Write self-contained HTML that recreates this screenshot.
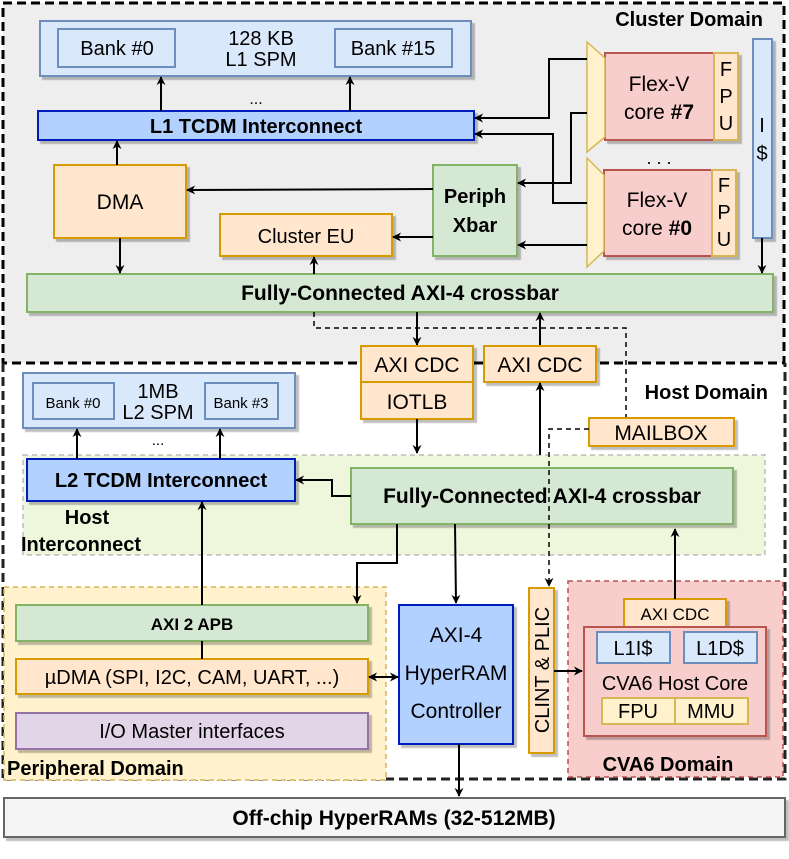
<!DOCTYPE html>
<html><head><meta charset="utf-8"><style>
html,body{margin:0;padding:0;background:#fff}
svg{display:block}
text{font-family:"Liberation Sans",sans-serif;fill:#000}
.b{font-weight:bold}
</style></head><body>
<svg width="789" height="859" viewBox="0 0 789 859" xmlns="http://www.w3.org/2000/svg">
<defs>
<filter id="sh" x="-5%" y="-5%" width="115%" height="130%"><feDropShadow dx="3" dy="3" stdDeviation="0.6" flood-color="#000" flood-opacity="0.25"/></filter>
<marker id="a" viewBox="0 0 10 10" refX="9" refY="5" markerWidth="9" markerHeight="9" orient="auto-start-reverse" markerUnits="userSpaceOnUse"><path d="M0,0 L10,5 L0,10 L3,5 z" fill="#000"/></marker>
</defs>
<rect x="3" y="3" width="781" height="360" fill="#eeeeee" stroke="#000" stroke-width="3" stroke-dasharray="9,5"/>
<path d="M3,363 V779 H785 V363" fill="none" stroke="#222" stroke-width="3" stroke-dasharray="9,5"/>
<text x="763" y="26" class="b" font-size="20" text-anchor="end">Cluster Domain</text>
<text x="768" y="399" class="b" font-size="20" text-anchor="end">Host Domain</text>

<g filter="url(#sh)">
<rect x="40" y="21" width="431" height="55" fill="#dae8fc" stroke="#6c8ebf" stroke-width="2"/>
<rect x="58" y="29" width="117" height="38" fill="#dae8fc" stroke="#6c8ebf" stroke-width="2"/>
<rect x="335" y="29" width="117" height="38" fill="#dae8fc" stroke="#6c8ebf" stroke-width="2"/>
<rect x="38" y="111" width="436" height="29" fill="#b3d1ff" stroke="#001dbc" stroke-width="2"/>
<rect x="54" y="165" width="132" height="73" fill="#ffe6cc" stroke="#d79b00" stroke-width="2"/>
<rect x="220" y="214" width="172" height="42" fill="#ffe6cc" stroke="#d79b00" stroke-width="2"/>
<rect x="433" y="165" width="84" height="91" fill="#d5e8d4" stroke="#82b366" stroke-width="2"/>
<rect x="605" y="53" width="109" height="87" fill="#f8cecc" stroke="#b85450" stroke-width="2"/>
<rect x="714" y="53" width="24" height="87" fill="#ffe6cc" stroke="#d6b656" stroke-width="2"/>
<rect x="604" y="170" width="108" height="86" fill="#f8cecc" stroke="#b85450" stroke-width="2"/>
<rect x="712" y="170" width="24" height="86" fill="#ffe6cc" stroke="#d6b656" stroke-width="2"/>
<rect x="753" y="39" width="19" height="199" fill="#dae8fc" stroke="#6c8ebf" stroke-width="2"/>
<rect x="27" y="274" width="746" height="38" fill="#d5e8d4" stroke="#82b366" stroke-width="2"/>
</g>
<path d="M587,42 L605,58 L605,137 L587,152 Z" fill="#fff2cc" stroke="#d6b656" stroke-width="1.5"/>
<path d="M587,158 L604,175 L604,251 L587,267 Z" fill="#fff2cc" stroke="#d6b656" stroke-width="1.5"/>

<text x="117" y="55" font-size="20" text-anchor="middle">Bank #0</text>
<text x="393" y="55" font-size="20" text-anchor="middle">Bank #15</text>
<text x="261" y="45" font-size="20" text-anchor="middle">128 KB</text>
<text x="261" y="66" font-size="20" text-anchor="middle">L1 SPM</text>
<text x="256" y="104" font-size="16" text-anchor="middle">...</text>
<text x="256" y="133" class="b" font-size="20" text-anchor="middle" fill="#222">L1 TCDM Interconnect</text>
<text x="120" y="209" font-size="21" text-anchor="middle">DMA</text>
<text x="306" y="243" font-size="20" text-anchor="middle">Cluster EU</text>
<text x="475" y="203" class="b" font-size="20" text-anchor="middle">Periph</text>
<text x="475" y="232" class="b" font-size="20" text-anchor="middle">Xbar</text>
<text x="659" y="91" font-size="21" text-anchor="middle">Flex-V</text>
<text x="659" y="119" font-size="21" text-anchor="middle">core <tspan class="b">#7</tspan></text>
<text x="726" y="76" font-size="20" text-anchor="middle">F</text>
<text x="726" y="103" font-size="20" text-anchor="middle">P</text>
<text x="726" y="130" font-size="20" text-anchor="middle">U</text>
<text x="657" y="207" font-size="21" text-anchor="middle">Flex-V</text>
<text x="657" y="235" font-size="21" text-anchor="middle">core <tspan class="b">#0</tspan></text>
<text x="724" y="192" font-size="20" text-anchor="middle">F</text>
<text x="724" y="219" font-size="20" text-anchor="middle">P</text>
<text x="724" y="246" font-size="20" text-anchor="middle">U</text>
<text x="659" y="164" font-size="18" text-anchor="middle">. . .</text>
<text x="762" y="132" font-size="20" text-anchor="middle">I</text>
<text x="762" y="160" font-size="20" text-anchor="middle">$</text>
<text x="400" y="300" class="b" font-size="21" text-anchor="middle">Fully-Connected AXI-4 crossbar</text>

<g stroke="#000" stroke-width="2" fill="none">
<path d="M161,111 V77" marker-end="url(#a)"/>
<path d="M350,111 V77" marker-end="url(#a)"/>
<path d="M117,165 V141" marker-end="url(#a)"/>
<path d="M120,238 V273" marker-end="url(#a)"/>
<path d="M314,274 V257" marker-end="url(#a)"/>
<path d="M762,238 V273" marker-end="url(#a)"/>
<path d="M433,189 L187,190" marker-end="url(#a)"/>
<path d="M433,237 H393" marker-end="url(#a)"/>
<path d="M587,59 H549 V118 H475" marker-end="url(#a)"/>
<path d="M587,113 H571 V183 H518" marker-end="url(#a)"/>
<path d="M587,203 H553 V134 H475" marker-end="url(#a)"/>
<path d="M587,245 H518" marker-end="url(#a)"/>
<path d="M417,312 V345" marker-end="url(#a)"/>
<path d="M540,346 V313" marker-end="url(#a)"/>
</g>
<path d="M314,312 V328 H626 V418" fill="none" stroke="#000" stroke-width="1.5" stroke-dasharray="5,4"/>

<rect x="23" y="455" width="742" height="100" fill="#eef6dc" stroke="#bbb" stroke-width="1.5" stroke-dasharray="5,4"/>
<rect x="4" y="587" width="382" height="193" fill="#fff2cc" stroke="#d6b656" stroke-width="1.5" stroke-dasharray="5,4"/>
<rect x="568" y="581" width="215" height="196" fill="#f8cecc" stroke="#b85450" stroke-width="1.5" stroke-dasharray="5,4"/>

<g filter="url(#sh)">
<rect x="361" y="346" width="112" height="36" fill="#ffe6cc" stroke="#d79b00" stroke-width="2"/>
<rect x="361" y="382" width="112" height="37" fill="#ffe6cc" stroke="#d79b00" stroke-width="2"/>
<rect x="484" y="346" width="112" height="36" fill="#ffe6cc" stroke="#d79b00" stroke-width="2"/>
<rect x="589" y="418" width="145" height="28" fill="#ffe6cc" stroke="#d79b00" stroke-width="2"/>
<rect x="23" y="373" width="272" height="55" fill="#dae8fc" stroke="#6c8ebf" stroke-width="2"/>
<rect x="33" y="383" width="81" height="36" fill="#dae8fc" stroke="#6c8ebf" stroke-width="2"/>
<rect x="205" y="383" width="73" height="36" fill="#dae8fc" stroke="#6c8ebf" stroke-width="2"/>
<rect x="27" y="459" width="268" height="42" fill="#b3d1ff" stroke="#001dbc" stroke-width="2"/>
<rect x="351" y="468" width="382" height="56" fill="#d5e8d4" stroke="#82b366" stroke-width="2"/>
<rect x="16" y="605" width="352" height="36" fill="#d5e8d4" stroke="#82b366" stroke-width="2"/>
<rect x="16" y="659" width="352" height="35" fill="#ffe6cc" stroke="#d79b00" stroke-width="2"/>
<rect x="16" y="713" width="352" height="36" fill="#e1d5e7" stroke="#9673a6" stroke-width="2"/>
<rect x="399" y="605" width="114" height="139" fill="#b3d1ff" stroke="#001dbc" stroke-width="2"/>
<rect x="529" y="588" width="25" height="165" fill="#ffe6cc" stroke="#d79b00" stroke-width="2"/>
<rect x="624" y="599" width="102" height="28" fill="#ffe6cc" stroke="#d79b00" stroke-width="2"/>
<rect x="584" y="627" width="182" height="109" fill="#f8cecc" stroke="#b85450" stroke-width="2"/>
<rect x="597" y="632" width="73" height="31" fill="#dae8fc" stroke="#6c8ebf" stroke-width="2"/>
<rect x="684" y="632" width="73" height="31" fill="#dae8fc" stroke="#6c8ebf" stroke-width="2"/>
<rect x="602" y="698" width="73" height="26" fill="#fff2cc" stroke="#d6b656" stroke-width="2"/>
<rect x="675" y="698" width="73" height="26" fill="#fff2cc" stroke="#d6b656" stroke-width="2"/>
<rect x="4" y="798" width="781" height="39" fill="#f5f5f5" stroke="#666" stroke-width="2"/>
</g>

<text x="417" y="372" font-size="21" text-anchor="middle">AXI CDC</text>
<text x="417" y="409" font-size="21" text-anchor="middle">IOTLB</text>
<text x="540" y="372" font-size="21" text-anchor="middle">AXI CDC</text>
<text x="661" y="440" font-size="21" text-anchor="middle">MAILBOX</text>
<text x="73" y="408" font-size="15" text-anchor="middle">Bank #0</text>
<text x="241" y="408" font-size="15" text-anchor="middle">Bank #3</text>
<text x="158" y="398" font-size="20" text-anchor="middle">1MB</text>
<text x="158" y="419" font-size="20" text-anchor="middle">L2 SPM</text>
<text x="158" y="445" font-size="15" text-anchor="middle">...</text>
<text x="161" y="487" class="b" font-size="20" text-anchor="middle" fill="#222">L2 TCDM Interconnect</text>
<text x="87" y="524" class="b" font-size="20" text-anchor="middle">Host</text>
<text x="21" y="551" class="b" font-size="20">Interconnect</text>
<text x="542" y="503" class="b" font-size="21" text-anchor="middle">Fully-Connected AXI-4 crossbar</text>
<text x="192" y="630" class="b" font-size="17" text-anchor="middle">AXI 2 APB</text>
<text x="192" y="684" font-size="20" text-anchor="middle">µDMA (SPI, I2C, CAM, UART, ...)</text>
<text x="192" y="738" font-size="20" text-anchor="middle">I/O Master interfaces</text>
<text x="7" y="775" class="b" font-size="20">Peripheral Domain</text>
<text x="456" y="642" font-size="21" text-anchor="middle">AXI-4</text>
<text x="456" y="680" font-size="21" text-anchor="middle">HyperRAM</text>
<text x="456" y="718" font-size="21" text-anchor="middle">Controller</text>
<text x="0" y="0" font-size="20" text-anchor="middle" transform="translate(549,670) rotate(-90)">CLINT &amp; PLIC</text>
<text x="675" y="620" font-size="17" text-anchor="middle">AXI CDC</text>
<text x="633" y="655" font-size="20" text-anchor="middle">L1I$</text>
<text x="720" y="655" font-size="20" text-anchor="middle">L1D$</text>
<text x="675" y="690" font-size="20" text-anchor="middle">CVA6 Host Core</text>
<text x="638" y="718" font-size="20" text-anchor="middle">FPU</text>
<text x="711" y="718" font-size="20" text-anchor="middle">MMU</text>
<text x="668" y="771" class="b" font-size="20" text-anchor="middle">CVA6 Domain</text>
<text x="394" y="825" class="b" font-size="21" text-anchor="middle" fill="#444">Off-chip HyperRAMs (32-512MB)</text>

<g stroke="#000" stroke-width="2" fill="none">
<path d="M417,419 V453" marker-end="url(#a)"/>
<path d="M540,455 V383" marker-end="url(#a)"/>
<path d="M77,459 V429" marker-end="url(#a)"/>
<path d="M220,459 V429" marker-end="url(#a)"/>
<path d="M351,496 H332 V480 H296" marker-end="url(#a)"/>
<path d="M202,605 V502" marker-end="url(#a)"/>
<path d="M202,641 V659"/>
<path d="M397,524 V563 H357 V603" marker-end="url(#a)"/>
<path d="M455,524 L456,603" marker-end="url(#a)"/>
<path d="M675,599 V529" marker-end="url(#a)"/>
<path d="M369,677 H398" marker-start="url(#a)" marker-end="url(#a)"/>
<path d="M459,744 V796" marker-end="url(#a)"/>
<path d="M554,671 H582" marker-end="url(#a)"/>
</g>
<path d="M589,429 H549 V586" fill="none" stroke="#000" stroke-width="1.5" stroke-dasharray="5,4" marker-end="url(#a)"/>
</svg>
</body></html>
